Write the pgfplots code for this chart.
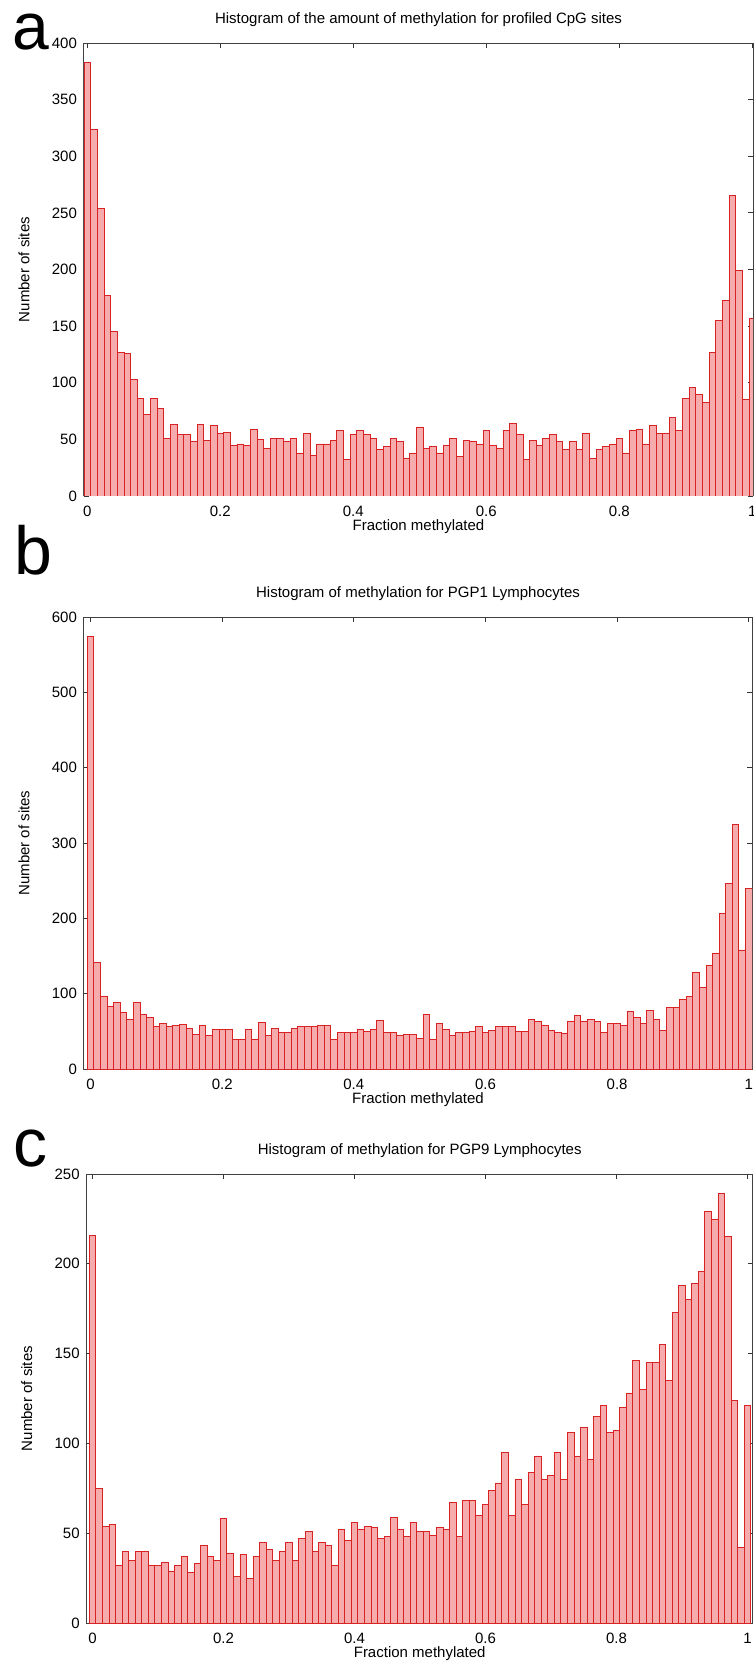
\documentclass[border=0pt]{standalone}
\usepackage{fontspec}
\setmainfont{Liberation Sans}
\usepackage{pgfplots}
\pgfplotsset{compat=1.18}
\usepackage{pgfplotstable}

\definecolor{barline}{RGB}{215,35,35}
\definecolor{barfill}{RGB}{246,172,172}

\pgfplotstableread{
x y
0.00 383
0.01 324
0.02 254
0.03 177
0.04 145
0.05 127
0.06 126
0.07 103
0.08 86
0.09 72
0.10 86
0.11 77
0.12 51
0.13 63
0.14 54
0.15 54
0.16 48
0.17 63
0.18 49
0.19 62
0.20 55
0.21 56
0.22 45
0.23 46
0.24 45
0.25 59
0.26 50
0.27 42
0.28 51
0.29 51
0.30 48
0.31 51
0.32 38
0.33 55
0.34 36
0.35 46
0.36 46
0.37 49
0.38 58
0.39 32
0.40 54
0.41 58
0.42 54
0.43 51
0.44 41
0.45 44
0.46 51
0.47 48
0.48 33
0.49 38
0.50 61
0.51 42
0.52 44
0.53 38
0.54 45
0.55 51
0.56 35
0.57 49
0.58 48
0.59 46
0.60 58
0.61 45
0.62 42
0.63 58
0.64 64
0.65 54
0.66 32
0.67 49
0.68 45
0.69 51
0.70 54
0.71 48
0.72 41
0.73 48
0.74 41
0.75 55
0.76 33
0.77 41
0.78 44
0.79 46
0.80 51
0.81 38
0.82 58
0.83 59
0.84 46
0.85 62
0.86 55
0.87 55
0.88 69
0.89 58
0.90 86
0.91 96
0.92 90
0.93 83
0.94 127
0.95 155
0.96 173
0.97 265
0.98 199
0.99 85
1.00 157
}\tA

\pgfplotstableread{
x y
0.00 574
0.01 141
0.02 97
0.03 83
0.04 88
0.05 75
0.06 66
0.07 88
0.08 73
0.09 68
0.10 56
0.11 61
0.12 56
0.13 58
0.14 59
0.15 54
0.16 46
0.17 58
0.18 44
0.19 52
0.20 52
0.21 52
0.22 39
0.23 39
0.24 52
0.25 39
0.26 62
0.27 44
0.28 54
0.29 48
0.30 48
0.31 54
0.32 57
0.33 57
0.34 57
0.35 58
0.36 58
0.37 39
0.38 48
0.39 48
0.40 48
0.41 52
0.42 50
0.43 52
0.44 65
0.45 48
0.46 48
0.47 44
0.48 46
0.49 46
0.50 40
0.51 72
0.52 39
0.53 61
0.54 52
0.55 44
0.56 48
0.57 49
0.58 50
0.59 56
0.60 49
0.61 51
0.62 57
0.63 57
0.64 57
0.65 50
0.66 50
0.67 66
0.68 63
0.69 58
0.70 51
0.71 49
0.72 47
0.73 63
0.74 71
0.75 63
0.76 66
0.77 63
0.78 49
0.79 60
0.80 60
0.81 58
0.82 77
0.83 69
0.84 60
0.85 78
0.86 66
0.87 51
0.88 82
0.89 82
0.90 93
0.91 96
0.92 128
0.93 108
0.94 137
0.95 154
0.96 206
0.97 246
0.98 325
0.99 158
1.00 240
}\tB

\pgfplotstableread{
x y
0.00 216
0.01 75
0.02 54
0.03 55
0.04 32
0.05 40
0.06 35
0.07 40
0.08 40
0.09 32
0.10 32
0.11 34
0.12 29
0.13 32
0.14 37
0.15 28
0.16 33
0.17 43
0.18 37
0.19 35
0.20 58
0.21 39
0.22 26
0.23 38
0.24 25
0.25 37
0.26 45
0.27 41
0.28 35
0.29 40
0.30 45
0.31 35
0.32 47
0.33 51
0.34 40
0.35 45
0.36 43
0.37 32
0.38 52
0.39 46
0.40 56
0.41 52
0.42 54
0.43 53
0.44 47
0.45 48
0.46 59
0.47 52
0.48 48
0.49 56
0.50 51
0.51 51
0.52 49
0.53 53
0.54 52
0.55 67
0.56 48
0.57 68
0.58 68
0.59 60
0.60 66
0.61 74
0.62 78
0.63 95
0.64 60
0.65 80
0.66 66
0.67 84
0.68 93
0.69 80
0.70 82
0.71 95
0.72 80
0.73 106
0.74 93
0.75 109
0.76 91
0.77 115
0.78 121
0.79 106
0.80 107
0.81 120
0.82 128
0.83 146
0.84 130
0.85 145
0.86 145
0.87 155
0.88 135
0.89 173
0.90 188
0.91 180
0.92 189
0.93 196
0.94 229
0.95 225
0.96 239
0.97 215
0.98 124
0.99 42
1.00 121
}\tC

\def\px{0.5pt}

\pgfplotsset{
  hist/.style={
    scale only axis,
    anchor=north west,
    ybar, bar width=0.01, bar shift=0pt,
    ymin=0,
    xtick={0,0.2,0.4,0.6,0.8,1},
    tick align=inside,
    xtick pos=both, ytick pos=both,
    major tick length=2.5pt,
    tick style={black!80, line width=0.4pt},
    axis line style={black!75, line width=0.5pt},
    ticklabel style={font=\fontsize{7.5}{9}\selectfont},
    xticklabel style={yshift=-1.5pt},
    /pgf/number format/assume math mode=true,
    title style={font=\fontsize{7.5}{9}\selectfont, at={(axis description cs:0.5,1)}, anchor=center, yshift=5.5pt},
    xlabel={Fraction methylated},
    ylabel={Number of sites},
    xlabel style={font=\fontsize{7.5}{9}\selectfont, at={(axis description cs:0.5,0)}, anchor=center, yshift=-15.5pt},
    ylabel style={font=\fontsize{7.5}{9}\selectfont, at={([xshift=-30pt]axis description cs:0,0.5)}, anchor=center},
  },
  bars/.style={draw=barline, fill=barfill, line width=0.4pt},
}

\begin{document}
\begin{tikzpicture}
\useasboundingbox (0,0) rectangle (754*\px,-1671*\px);

\node[anchor=base, inner sep=0pt, font=\fontsize{33}{33}\selectfont] at (31*\px,-49*\px) {a};
\node[anchor=base, inner sep=0pt, font=\fontsize{34}{34}\selectfont] at (33*\px,-574*\px) {b};
\node[anchor=base, inner sep=0pt, font=\fontsize{34}{34}\selectfont] at (30*\px,-1166*\px) {c};

\begin{axis}[hist,
  at={(84*\px,-43*\px)}, width=669*\px, height=453*\px,
  xmin=-0.005, xmax=1.001, ymax=400,
  ytick={0,50,...,400},
  title={Histogram of the amount of methylation for profiled CpG sites}]
\addplot[bars] table[x=x,y=y]{\tA};
\end{axis}

\begin{axis}[hist,
  at={(84*\px,-617*\px)}, width=668*\px, height=452*\px,
  xmin=-0.010, xmax=1.005, ymax=600,
  ytick={0,100,...,600},
  title={Histogram of methylation for PGP1 Lymphocytes}]
\addplot[bars] table[x=x,y=y]{\tB};
\end{axis}

\begin{axis}[hist,
  at={(86.7*\px,-1174*\px)}, width=666*\px, height=449*\px,
  xmin=-0.009, xmax=1.008, ymax=250,
  ytick={0,50,...,250},
  title={Histogram of methylation for PGP9 Lymphocytes}]
\addplot[bars] table[x=x,y=y]{\tC};
\end{axis}
\end{tikzpicture}
\end{document}
